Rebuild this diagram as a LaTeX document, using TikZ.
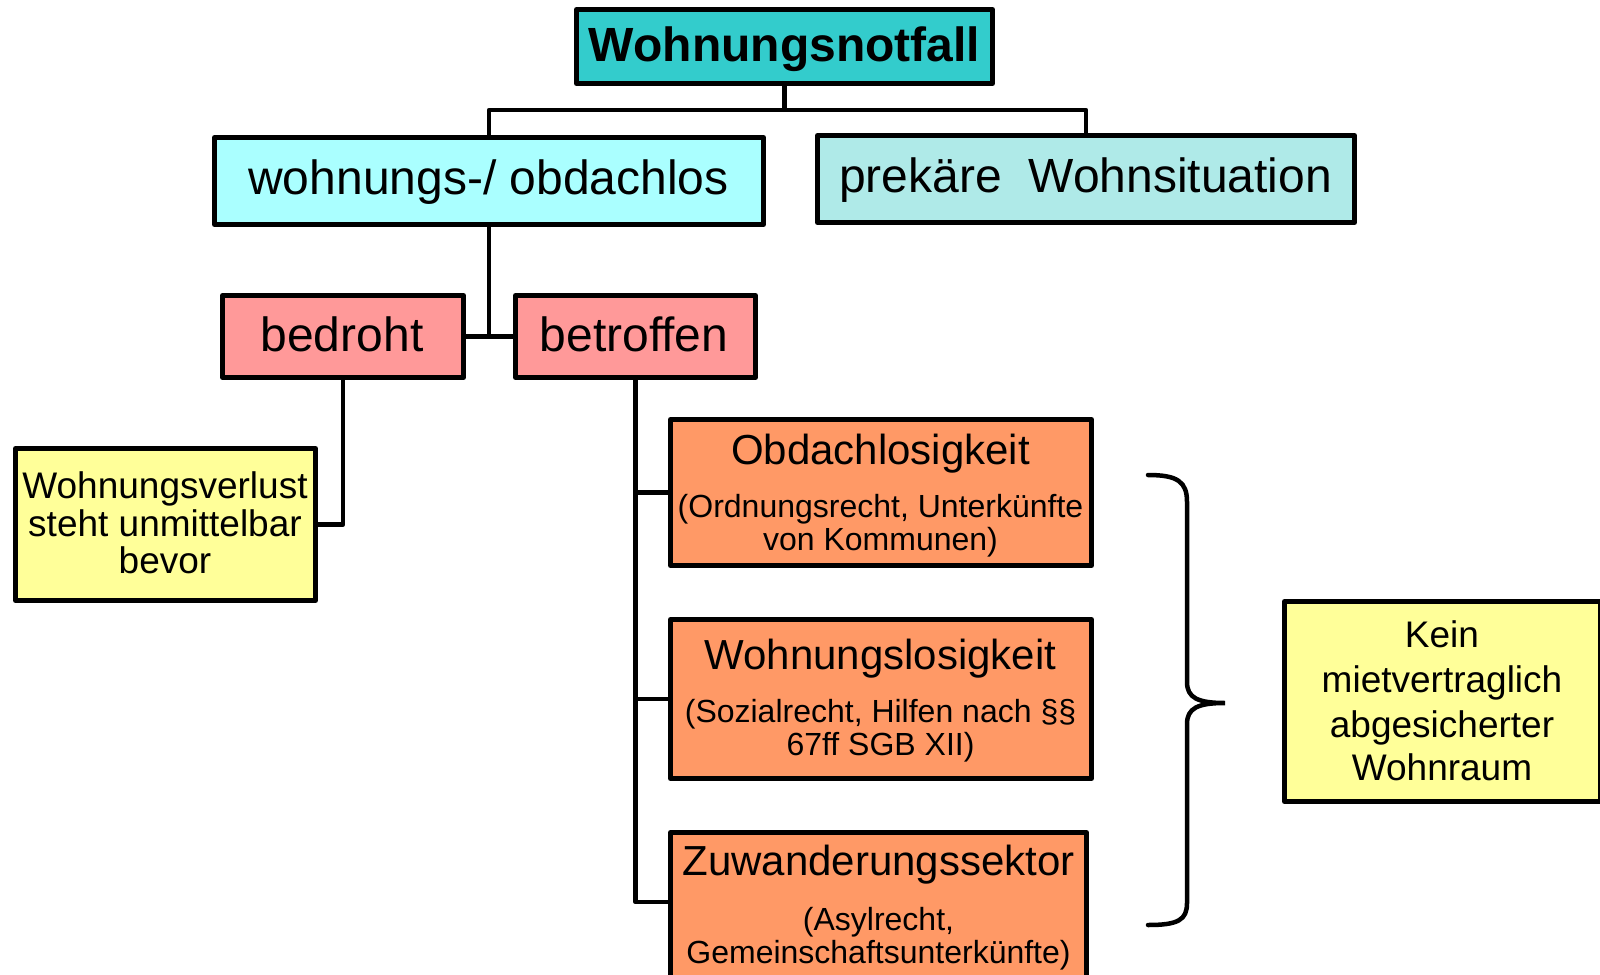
\documentclass[tikz,border=0pt]{standalone}
\usepackage{fontspec}
\setmainfont{Liberation Sans}
\definecolor{cTop}{HTML}{33CCCC}
\definecolor{cWo}{HTML}{AAFFFF}
\definecolor{cPre}{HTML}{AFEAE8}
\definecolor{cRed}{HTML}{FF9999}
\definecolor{cOr}{HTML}{FF9966}
\definecolor{cYel}{HTML}{FFFF99}
\begin{document}
\begin{tikzpicture}[x=1pt,y=-1pt,
  box/.style={draw, line width=5pt, line join=round, inner sep=0pt, rectangle},
  conn/.style={line width=4.5pt, line join=round},
  brace/.style={line width=4.5pt, line cap=round},
  tbig/.style={anchor=base, inner sep=0pt, font=\fontsize{48}{56}\selectfont},
  ttitle/.style={anchor=base, inner sep=0pt, font=\fontsize{42}{50}\selectfont},
  tsub/.style={anchor=base, inner sep=0pt, font=\fontsize{32}{38}\selectfont},
  tmid/.style={anchor=base, inner sep=0pt, font=\fontsize{37}{44}\selectfont}]
\useasboundingbox (0,0) rectangle (1600,974);
\begin{scope}
\clip (0,0) rectangle (1600,974);
\fill[white] (0,0) rectangle (1600,974);
% boxes
\node[box, fill=cTop, minimum width=416pt, minimum height=74pt] (notfall) at (784.5,46.5) {};
\node[box, fill=cWo, minimum width=549pt, minimum height=87pt] (wo) at (489,181) {};
\node[box, fill=cPre, minimum width=537pt, minimum height=87pt] (pre) at (1086,179) {};
\node[box, fill=cRed, minimum width=241pt, minimum height=82pt] (bed) at (343,336.5) {};
\node[box, fill=cRed, minimum width=240pt, minimum height=82pt] (bet) at (635.5,336.5) {};
\node[box, fill=cYel, minimum width=300pt, minimum height=152pt] (wv) at (165.5,524.5) {};
\node[box, fill=cOr, minimum width=421pt, minimum height=146pt] (obd) at (881,492.5) {};
\node[box, fill=cOr, minimum width=421pt, minimum height=159pt] (wl) at (881,699) {};
\node[box, fill=cOr, minimum width=416pt, minimum height=165pt] (zu) at (878.5,915) {};
\node[box, fill=cYel, minimum width=316pt, minimum height=200pt] (kein) at (1442.5,701.5) {};
% texts
\node[tbig, font=\fontsize{48}{56}\selectfont\bfseries] (tnotfall) at (784.5,62) {Wohnungsnotfall};
\node[tbig] (two) at (488.5,194) {wohnungs-/ obdachlos};
\node[tbig] (tpre) at (1085.5,192) {prekäre\ \ Wohnsituation};
\node[tbig] (tbed) at (342,351) {bedroht};
\node[tbig] (tbet) at (634,351) {betroffen};
\node[tmid] (twv1) at (165,498) {Wohnungsverlust};
\node[tmid] (twv2) at (165,536) {steht unmittelbar};
\node[tmid] (twv3) at (165,573) {bevor};
\node[ttitle] (tobd) at (880.5,464) {Obdachlosigkeit};
\node[tsub] (tobd1) at (880.5,517) {(Ordnungsrecht, Unterkünfte};
\node[tsub] (tobd2) at (880.5,550) {von Kommunen)};
\node[ttitle] (twl) at (880.5,669) {Wohnungslosigkeit};
\node[tsub] (twl1) at (880.5,722) {(Sozialrecht, Hilfen nach §§};
\node[tsub] (twl2) at (880.5,755) {67ff SGB XII)};
\node[ttitle] (tzu) at (878.5,875) {Zuwanderungssektor};
\node[tsub] (tzu1) at (878.5,930) {(Asylrecht,};
\node[tsub] (tzu2) at (878.5,963) {Gemeinschaftsunterkünfte)};
\node[tmid] (tk1) at (1442,647) {Kein};
\node[tmid] (tk2) at (1442,692) {mietvertraglich};
\node[tmid] (tk3) at (1442,737) {abgesicherter};
\node[tmid] (tk4) at (1442,780) {Wohnraum};
% connectors
\coordinate (j1) at (784.5,110);
\coordinate (j2) at (489,336.5);
\coordinate (zuin) at (668,902);
\draw[conn] (notfall.south) -- (j1);
\draw[conn] (wo.north) |- (j1) -| (pre.north);
\draw[conn] (wo.south) -- (j2);
\draw[conn] (bed.east) -- (bet.west);
\draw[conn] (bed.south) |- (wv.east);
\draw[conn] (bet.south) |- (zuin);
\draw[conn] (obd.west) -- (obd.west -| bet.south);
\draw[conn] (wl.west) -- (wl.west -| bet.south);
% brace
\coordinate (btop) at (1148,475);
\coordinate (btip) at (1225,703);
\coordinate (bbot) at (1148,925);
\draw[brace] (btop) .. controls (1178,475) and (1187,482) .. (1187,502)
  -- (1187,682) .. controls (1187,698) and (1198,703) .. (btip)
  .. controls (1198,703) and (1187,708) .. (1187,724)
  -- (1187,903) .. controls (1187,920) and (1178,925) .. (bbot);
\end{scope}
\end{tikzpicture}
\end{document}
